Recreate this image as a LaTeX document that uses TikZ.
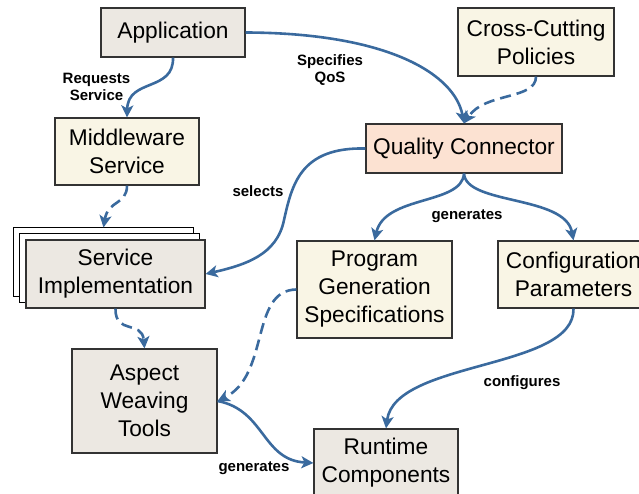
\documentclass[tikz,border=0pt]{standalone}
\usepackage{fontspec}
\setmainfont{Liberation Sans}
\usetikzlibrary{arrows.meta,calc}
\definecolor{graybox}{HTML}{ECE8E2}
\definecolor{creambox}{HTML}{F9F5E5}
\definecolor{peachbox}{HTML}{FCE2D2}
\definecolor{arrowblue}{HTML}{3A6A9E}
\definecolor{boxline}{HTML}{333333}
\begin{document}
\begin{tikzpicture}[x=1bp,y=-1bp,
  box/.style={draw=boxline, line width=1.2bp, align=center, inner sep=0pt,
    font=\fontsize{22.7bp}{28bp}\selectfont},
  backbox/.style={draw=black, line width=1bp, fill=white, inner sep=0pt},
  conn/.style={draw=arrowblue, line width=2.6bp, -{Stealth[length=12bp,width=12bp,inset=3bp]}},
  dashconn/.style={conn, dash pattern=on 11bp off 6bp},
  lbl/.style={font=\fontsize{15bp}{17bp}\selectfont\bfseries, align=center, inner sep=0pt}]
\useasboundingbox (0,0) rectangle (639,494);

% nodes
\node[box, fill=graybox, minimum width=144bp, minimum height=49bp] (app) at (173,32.5) {Application};
\node[box, fill=creambox, minimum width=156bp, minimum height=68bp] (ccp) at (536,42) {Cross-Cutting\\Policies};
\node[box, fill=creambox, minimum width=144bp, minimum height=67bp] (mw) at (127,151.5) {Middleware\\Service};
\node[box, fill=peachbox, minimum width=196bp, minimum height=49bp] (qc) at (464,148.5) {Quality Connector};
\node[backbox, minimum width=179bp, minimum height=68bp] (si3) at (103.5,262) {};
\node[backbox, minimum width=179bp, minimum height=68bp] (si2) at (109.5,268) {};
\node[box, fill=graybox, minimum width=179bp, minimum height=68bp] (si) at (115.5,274) {Service\\Implementation};
\node[box, fill=creambox, minimum width=155bp, minimum height=97bp] (pgs) at (374.5,289.5) {Program\\Generation\\Specifications};
\node[box, fill=creambox, minimum width=151bp, minimum height=67bp] (cp) at (573.5,274.5) {Configuration\\Parameters};
\node[box, fill=graybox, minimum width=145bp, minimum height=104bp] (awt) at (144.5,401) {Aspect\\Weaving\\Tools};
\node[box, fill=graybox, minimum width=144bp, minimum height=68bp] (rc) at (386,463) {Runtime\\Components};

% connectors
\draw[conn] (app.east) .. controls (390,33) and (455,75) .. (qc.north);
\draw[conn] (app.south) .. controls (174,92) and (128,78) .. (mw.north);
\draw[dashconn] (ccp.south) .. controls (536,100) and (485,92) .. (qc.north);
\draw[dashconn] (mw.south) .. controls (127,205) and (108,200) .. (si3.north);
\draw[conn] (qc.west) .. controls (300,147) and (292,185) .. (284,220) .. controls (277,255) and (245,265) .. (si.east);
\draw[conn] (qc.south) .. controls (462,205) and (385,195) .. (pgs.north);
\draw[conn] (qc.south) .. controls (466,205) and (565,195) .. (cp.north);
\draw[dashconn] (si.south) .. controls (115,335) and (142,320) .. (awt.north);
\draw[dashconn] (pgs.west) .. controls (250,290) and (270,375) .. (awt.east);
\draw[conn] (awt.east) .. controls (265,410) and (262,460) .. (rc.west);
\draw[conn] (cp.south) .. controls (575,370) and (395,360) .. (rc.north);

% labels
\node[lbl] (l1) at (96.5,87) {Requests\\Service};
\node[lbl] (l2) at (330,70) {Specifies\\QoS};
\node[lbl] (l3) at (258,191) {selects};
\node[lbl] (l4) at (467,216) {generates};
\node[lbl] (l5) at (522,383) {configures};
\node[lbl] (l6) at (254,468) {generates};
\end{tikzpicture}
\end{document}
